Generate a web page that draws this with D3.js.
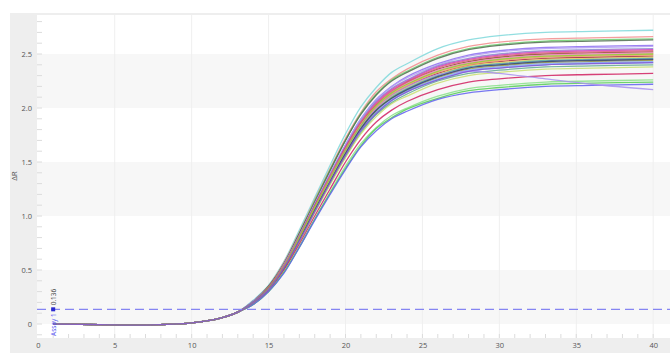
<!DOCTYPE html>
<html><head><meta charset="utf-8">
<script src="https://cdn.jsdelivr.net/npm/d3@7"></script>
<style>html,body{margin:0;padding:0;background:#fff;}svg{display:block;font-family:"Open Sans",Arial,sans-serif;}</style>
</head><body>
<svg id="c" width="670" height="353"></svg>
<script>
const cycles = [1,4,7,10,12,13,14,15,16,17,18,19,20,21,22,23,24,26,28,30,33,36,40];
const xTicks = [0,5,10,15,20,25,30,35,40];
const yTicks = [0,0.5,1.0,1.5,2.0,2.5];
const yTickLabels = ["0","0.5","1.0","1.5","2.0","2.5"];
const threshold = 0.136;
const thresholdLabel = "0.136";
const assayLabel = "Assay 1";
const yLabel = "ΔR";
const colors = ["#7fd8da","#f28c8c","#6ccf6c","#4f6b4f","#8c6cf0","#b29ef5","#8888cc","#d040c0","#8b4a2b","#e8a040","#f080c0","#a02040","#e6d060","#4fa8a0","#6677ee","#a0a040","#88aaff","#66c0e0","#60a890","#c8e070","#d02060","#88e088","#55cc55","#6060f0","#a890f0","#f0a070","#e06080","#405060","#90d040","#8a50d8"];
const s01 = [0,-0.005,-0.01,0.01,0.06,0.11,0.22,0.36,0.58,0.87,1.17,1.47,1.76,2.01,2.19,2.33,2.41,2.55,2.63,2.67,2.70,2.71,2.72];
const s02 = [0,-0.005,-0.01,0.01,0.06,0.11,0.21,0.35,0.57,0.85,1.15,1.44,1.72,1.96,2.15,2.27,2.36,2.49,2.57,2.61,2.64,2.65,2.66];
const s03 = [0,-0.005,-0.01,0.01,0.06,0.11,0.21,0.35,0.56,0.84,1.14,1.43,1.70,1.95,2.13,2.26,2.34,2.47,2.55,2.59,2.62,2.63,2.64];
const s04 = [0,-0.005,-0.01,0.01,0.06,0.11,0.21,0.35,0.56,0.84,1.13,1.42,1.70,1.94,2.12,2.25,2.33,2.46,2.54,2.58,2.61,2.62,2.63];
const s05 = [0,-0.005,-0.01,0.01,0.06,0.11,0.21,0.34,0.55,0.82,1.11,1.39,1.66,1.90,2.08,2.20,2.29,2.41,2.49,2.53,2.56,2.57,2.58];
const s06 = [0,-0.005,-0.01,0.01,0.06,0.11,0.21,0.34,0.55,0.82,1.11,1.39,1.66,1.90,2.07,2.20,2.28,2.40,2.48,2.52,2.55,2.56,2.57];
const s07 = [0,-0.005,-0.01,0.01,0.06,0.11,0.21,0.34,0.54,0.81,1.10,1.38,1.64,1.88,2.06,2.18,2.26,2.39,2.46,2.50,2.53,2.54,2.55];
const s08 = [0,-0.005,-0.01,0.01,0.06,0.11,0.20,0.34,0.54,0.81,1.10,1.37,1.64,1.87,2.05,2.17,2.25,2.38,2.45,2.49,2.52,2.53,2.54];
const s09 = [0,-0.005,-0.01,0.01,0.06,0.11,0.20,0.34,0.54,0.80,1.09,1.36,1.63,1.86,2.03,2.15,2.24,2.36,2.43,2.47,2.50,2.51,2.52];
const s10 = [0,-0.005,-0.01,0.01,0.06,0.11,0.20,0.33,0.53,0.80,1.08,1.35,1.61,1.84,2.02,2.14,2.22,2.34,2.41,2.45,2.48,2.49,2.50];
const s11 = [0,-0.005,-0.01,0.01,0.06,0.11,0.20,0.33,0.54,0.80,1.08,1.36,1.62,1.85,2.02,2.15,2.23,2.35,2.42,2.46,2.49,2.50,2.51];
const s12 = [0,-0.005,-0.01,0.01,0.06,0.11,0.20,0.33,0.53,0.79,1.07,1.34,1.60,1.83,2.00,2.12,2.20,2.32,2.395,2.43,2.46,2.47,2.48];
const s13 = [0,-0.005,-0.01,0.01,0.06,0.11,0.20,0.33,0.53,0.79,1.07,1.33,1.59,1.82,1.99,2.11,2.19,2.31,2.39,2.42,2.45,2.46,2.47];
const s14 = [0,-0.005,-0.01,0.01,0.06,0.11,0.20,0.33,0.53,0.78,1.06,1.33,1.59,1.82,1.98,2.10,2.18,2.30,2.38,2.41,2.44,2.45,2.46];
const s15 = [0,-0.005,-0.01,0.01,0.06,0.11,0.20,0.33,0.52,0.78,1.06,1.32,1.58,1.81,1.98,2.09,2.17,2.29,2.37,2.40,2.43,2.44,2.45];
const s16 = [0,-0.005,-0.01,0.01,0.06,0.11,0.20,0.32,0.52,0.78,1.05,1.32,1.57,1.80,1.97,2.09,2.16,2.28,2.36,2.39,2.42,2.43,2.44];
const s17 = [0,-0.005,-0.01,0.01,0.06,0.11,0.20,0.32,0.52,0.77,1.05,1.31,1.57,1.79,1.96,2.08,2.16,2.27,2.35,2.38,2.41,2.42,2.43];
const s18 = [0,-0.005,-0.01,0.01,0.06,0.11,0.20,0.32,0.52,0.77,1.04,1.31,1.56,1.79,1.95,2.07,2.15,2.26,2.34,2.37,2.40,2.41,2.42];
const s19 = [0,-0.005,-0.01,0.01,0.06,0.11,0.19,0.32,0.51,0.76,1.04,1.30,1.55,1.77,1.94,2.05,2.13,2.25,2.32,2.35,2.38,2.39,2.40];
const s20 = [0,-0.005,-0.01,0.01,0.06,0.11,0.19,0.32,0.51,0.76,1.03,1.29,1.54,1.76,1.92,2.04,2.11,2.23,2.30,2.33,2.36,2.37,2.38];
const s21 = [0,-0.005,-0.01,0.01,0.06,0.11,0.19,0.31,0.50,0.74,1.00,1.25,1.50,1.71,1.87,1.98,2.06,2.17,2.24,2.27,2.30,2.31,2.32];
const s22 = [0,-0.005,-0.01,0.01,0.06,0.11,0.18,0.30,0.48,0.72,0.97,1.22,1.46,1.67,1.82,1.93,2.00,2.11,2.18,2.21,2.24,2.25,2.26];
const s23 = [0,-0.005,-0.01,0.01,0.06,0.11,0.18,0.30,0.48,0.71,0.97,1.21,1.44,1.65,1.81,1.91,1.99,2.09,2.16,2.19,2.22,2.23,2.24];
const s24 = [0,-0.005,-0.01,0.01,0.06,0.11,0.18,0.30,0.47,0.71,0.96,1.20,1.43,1.64,1.79,1.90,1.97,2.08,2.14,2.17,2.20,2.21,2.22];
const s25 = [0,-0.005,-0.01,0.01,0.06,0.11,0.20,0.33,0.53,0.79,1.07,1.34,1.60,1.83,2.00,2.12,2.20,2.31,2.34,2.32,2.27,2.22,2.17];
const s26 = [0,-0.005,-0.01,0.01,0.06,0.11,0.20,0.33,0.53,0.79,1.07,1.35,1.61,1.84,2.01,2.13,2.21,2.33,2.40,2.44,2.47,2.48,2.49];
const s27 = [0,-0.005,-0.01,0.01,0.06,0.11,0.20,0.34,0.54,0.81,1.09,1.37,1.63,1.87,2.04,2.16,2.24,2.37,2.44,2.48,2.51,2.52,2.53];
const s28 = [0,-0.005,-0.01,0.01,0.06,0.11,0.20,0.33,0.52,0.78,1.06,1.32,1.58,1.81,1.98,2.09,2.17,2.29,2.37,2.40,2.43,2.44,2.45];
const s29 = [0,-0.005,-0.01,0.01,0.06,0.11,0.20,0.33,0.53,0.80,1.08,1.35,1.61,1.84,2.02,2.14,2.22,2.34,2.41,2.45,2.48,2.49,2.50];
const s30 = [0,-0.005,-0.01,0.01,0.06,0.11,0.20,0.32,0.52,0.77,1.04,1.31,1.56,1.79,1.95,2.07,2.15,2.26,2.34,2.37,2.40,2.41,2.42];
const seriesList = [s01,s02,s03,s04,s05,s06,s07,s08,s09,s10,s11,s12,s13,s14,s15,s16,s17,s18,s19,s20,s21,s22,s23,s24,s25,s26,s27,s28,s29,s30];

const svg = d3.select("#c");
const W = 670, H = 353;
const panel = {x:10, y:13};
const plot = {l:37, t:15, r:670, b:338};
svg.append("rect").attr("x",panel.x).attr("y",panel.y).attr("width",W-panel.x).attr("height",H-panel.y).attr("fill","#eeeeee");

const x = d3.scaleLinear().domain([0,40]).range([37.8,653.2]);
const y = d3.scaleLinear().domain([0,2.5]).range([324,54]);

const g = svg.append("g");
g.append("rect").attr("x",plot.l).attr("y",plot.t).attr("width",plot.r-plot.l).attr("height",plot.b-plot.t).attr("fill","#ffffff");
const bands = [[0,0.5],[1.0,1.5],[2.0,2.5]];
g.selectAll("rect.band").data(bands).join("rect").attr("class","band")
  .attr("x",plot.l).attr("width",plot.r-plot.l)
  .attr("y",d=>y(d[1])).attr("height",d=>y(d[0])-y(d[1])).attr("fill","#f7f7f7");
g.selectAll("line.vg").data(xTicks.slice(1)).join("line").attr("class","vg")
  .attr("x1",d=>x(d)).attr("x2",d=>x(d)).attr("y1",plot.t).attr("y2",plot.b)
  .attr("stroke","#efefef").attr("stroke-width",1);
const xMinor = d3.range(1,41);
g.selectAll("line.xm").data(xMinor).join("line").attr("class","xm")
  .attr("x1",d=>x(d)).attr("x2",d=>x(d)).attr("y1",plot.b).attr("y2",plot.b-4)
  .attr("stroke","#dcdcdc");
const yMinor = d3.range(-1,29).map(d=>d/10);
g.selectAll("line.ym").data(yMinor).join("line").attr("class","ym")
  .attr("x1",plot.l).attr("x2",plot.l+5).attr("y1",d=>y(d)).attr("y2",d=>y(d))
  .attr("stroke","#dcdcdc");

const xAxis = d3.axisBottom(x).tickValues(xTicks).tickSize(0).tickPadding(0);
const xa = svg.append("g").attr("transform",`translate(0,${plot.b+5})`).call(xAxis);
xa.select(".domain").remove();
xa.selectAll("text").attr("font-size",7.5).attr("fill","#555").attr("font-family","Open Sans, Arial, sans-serif");
const yAxis = d3.axisLeft(y).tickValues(yTicks).tickFormat((d,i)=>yTickLabels[i]).tickSize(0).tickPadding(0);
const ya = svg.append("g").attr("transform",`translate(${plot.l-5},0)`).call(yAxis);
ya.select(".domain").remove();
ya.selectAll("text").attr("font-size",7.5).attr("fill","#555").attr("font-family","Open Sans, Arial, sans-serif");

svg.append("text").attr("transform",`translate(17,176) rotate(-90)`).attr("text-anchor","middle")
  .attr("font-size",8).attr("fill","#555").text(yLabel);

svg.append("clipPath").attr("id","pc").append("rect")
  .attr("x",plot.l).attr("y",plot.t).attr("width",plot.r-plot.l).attr("height",plot.b-plot.t);
const line = d3.line().x((d,i)=>x(cycles[i])).y(d=>y(d)).curve(d3.curveCatmullRom.alpha(0.5));
svg.append("g").attr("clip-path","url(#pc)").selectAll("path").data(seriesList).join("path")
  .attr("d",line).attr("fill","none").attr("stroke",(d,i)=>colors[i]).attr("stroke-width",1.3).attr("stroke-opacity",0.85);

svg.append("line").attr("x1",plot.l).attr("x2",plot.r).attr("y1",y(threshold)).attr("y2",y(threshold))
  .attr("stroke","#8585f2").attr("stroke-width",1.2).attr("stroke-dasharray","9,5");
svg.append("rect").attr("x",x(1)-2).attr("y",y(threshold)-2).attr("width",4).attr("height",4).attr("fill","#2a2ad0");
svg.append("text").attr("transform",`translate(${x(1)+2.5},${y(threshold)-4}) rotate(-90)`)
  .attr("font-size",6.5).attr("fill","#444").text(thresholdLabel);
svg.append("text").attr("transform",`translate(${x(1)+2.5},${y(threshold)+4}) rotate(-90)`)
  .attr("text-anchor","end").attr("font-size",6.5).attr("fill","#4a4af0").text(assayLabel);
</script>
</body></html>
